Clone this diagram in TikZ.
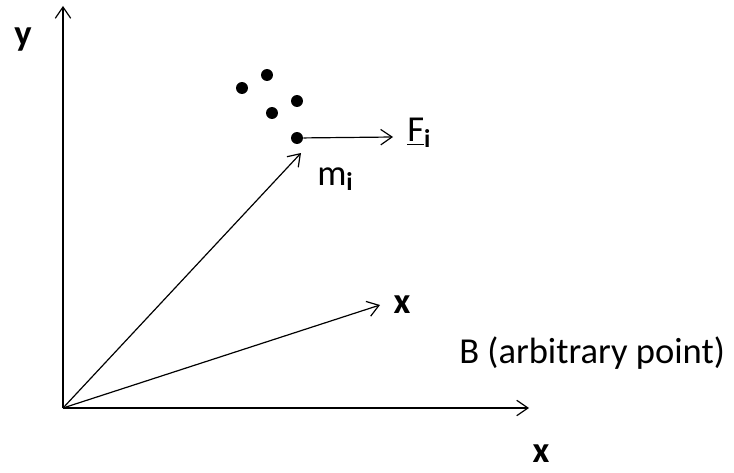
\documentclass[tikz,border=0pt]{standalone}
\usepackage{fontspec}
\setmainfont{Carlito}
\usetikzlibrary{arrows.meta, positioning}

\begin{document}
\begin{tikzpicture}[
    x=0.025cm, y=-0.025cm,
    vec/.style={-{Straight Barb[length=8pt, width=11pt]}, line width=0.85pt},
    particle/.style={circle, fill=black, inner sep=0pt, minimum size=8.5pt},
    lbl/.style={font=\fontsize{26}{30}\selectfont, inner sep=0pt, anchor=base west},
    axislbl/.style={font=\fontsize{26}{30}\selectfont\bfseries, inner sep=0pt, anchor=base},
]
\useasboundingbox (0,0) rectangle (734,472);

% Origin and axis ends
\coordinate (origin) at (63,408);
\coordinate (ytip) at (63,6);
\coordinate (xtip) at (529,408);

% Particles
\node[particle] (p1) at (242,88) {};
\node[particle] (p2) at (267,75) {};
\node[particle] (p3) at (297,101) {};
\node[particle] (p4) at (272,113) {};
\node[particle] (mi) at (297,138) {};

% Vector ends
\coordinate (mtip) at (301,153);
\coordinate (Btip) at (380,305);
\coordinate (Ftip) at (393,137);

% Axes
\draw[vec] (origin) -- (ytip);
\draw[vec] (origin) -- (xtip);
\node[axislbl] (ylabel) at (23,46) {y};
\node[axislbl] (xlabel) at (541,462) {x};

% Position vectors
\draw[vec] (origin) -- (mtip);
\draw[vec] (origin) -- (Btip);
\node[axislbl] (xvec) at (402,313) {x};
\node[lbl] (Blabel) at (459,363) {B (arbitrary point)};

% Force on m_i
\draw[vec] (mi) -- (Ftip);
\node[lbl] (Flabel) at (407,142) {\underline{F}\textsubscript{\bfseries i}};
\node[lbl] (mlabel) at (317,185) {m\textsubscript{\bfseries i}};

\end{tikzpicture}
\end{document}
